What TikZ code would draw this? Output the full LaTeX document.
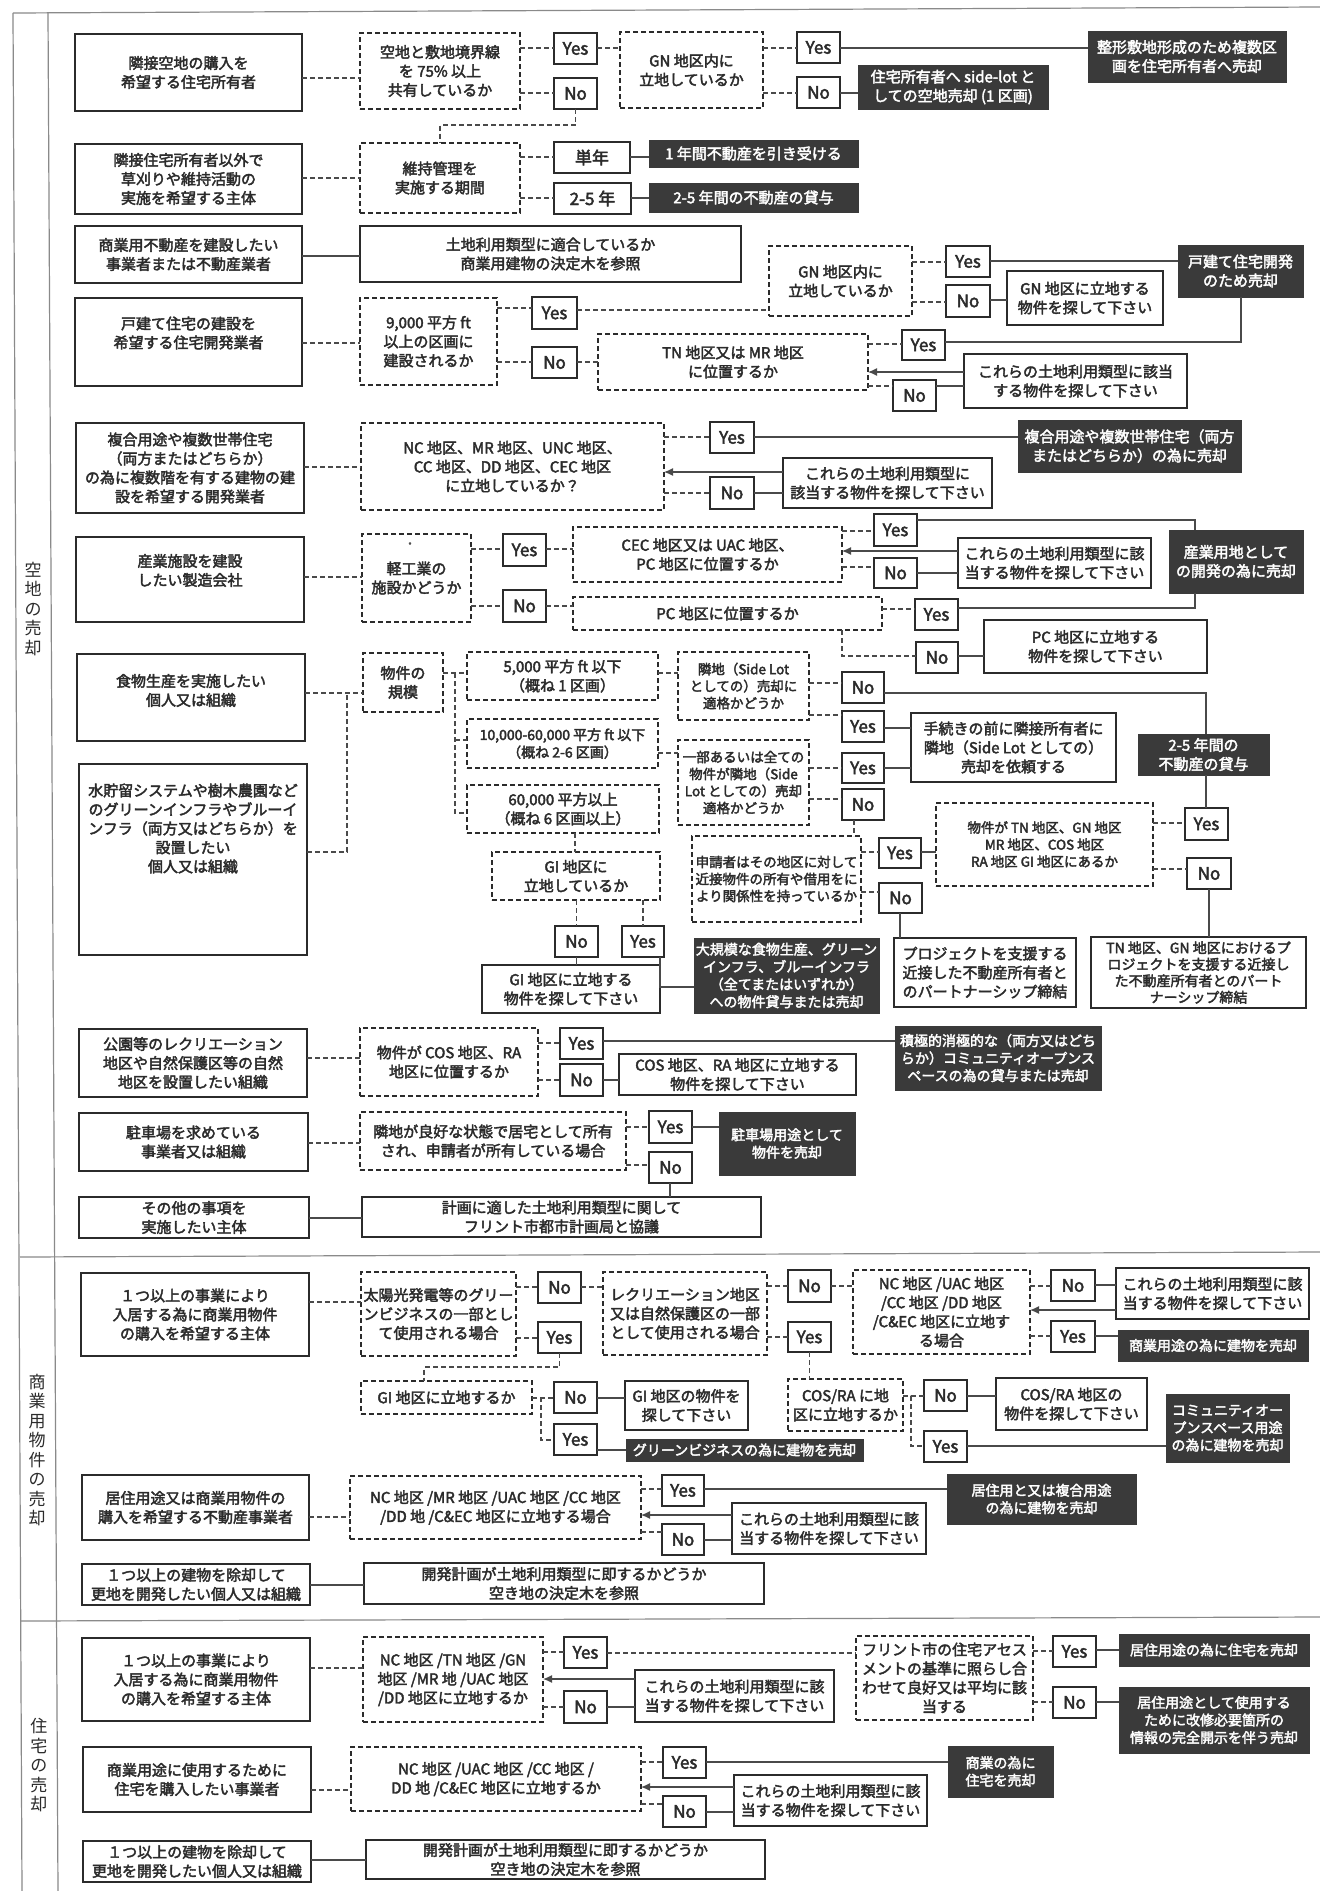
\documentclass[tikz,border=0pt]{standalone}
\usepackage{fontspec}
\setmainfont{Noto Sans CJK JP}[FakeBold=2.6]
\newfontfamily\lightjp{Noto Sans CJK JP}
\usetikzlibrary{arrows.meta}
\definecolor{ink}{HTML}{2B2B2B}
\definecolor{lin}{HTML}{4A4A4A}
\definecolor{dkf}{HTML}{3A3A3A}
\definecolor{frm}{HTML}{8A8A8A}
\newcommand\fa{\fontsize{15}{19}\selectfont}
\newcommand\fb{\fontsize{14}{17.5}\selectfont}
\newcommand\fc{\fontsize{13.5}{17}\selectfont}
\newcommand\fe{\fontsize{14}{16.5}\selectfont}
\newcommand\fy{\fontsize{17}{20}\selectfont}
\newcommand\mkbox[7]{\node[#2, minimum width={(#5)-(#3)}, minimum height={(#6)-(#4)}] (#1) at ({((#3)+(#5))/2},{((#4)+(#6))/2}) {#7};}
\newcommand\mkboxt[8]{\node[#2, minimum width={(#5)-(#3)}, minimum height={(#6)-(#4)}] (#1) at ({((#3)+(#5))/2},{((#4)+(#6))/2}) {};
\node[base] (#1t) at ({((#3)+(#5))/2},{((#4)+(#6))/2+(#7)}) {#8};}
\newcommand\hcon[4]{\draw[#1] (#2.east |- 0,#4) -- (#3.west |- 0,#4);}
\tikzset{
 base/.style={inner sep=0pt, outer sep=0pt, align=center, text=ink, font=\fa},
 act/.style={base, draw=ink, line width=1.6pt, fill=white},
 qn/.style={base, draw=ink, line width=1.3pt, dash pattern=on 5pt off 3pt},
 yn/.style={base, draw=ink, line width=1.3pt, fill=white, font=\fy},
 res/.style={base, draw=ink, line width=1.3pt, fill=white},
 dk/.style={base, fill=dkf, draw=dkf, text=white, line width=1pt},
 dl/.style={draw=lin, line width=1.2pt, dash pattern=on 5pt off 3pt},
 sl/.style={draw=lin, line width=1.2pt},
 ar/.style={sl, -{Latex[length=9pt,width=8pt]}},
 frame/.style={draw=frm, line width=1.2pt},
 seclab/.style={inner sep=0pt, align=center, text=ink, font=\lightjp\fontsize{17}{19.5}\selectfont},
}
\begin{document}
\begin{tikzpicture}[x=1pt,y=-1pt]
\useasboundingbox (0,0) rectangle (1320,1891);
\fill[white] (0,0) rectangle (1320,1891);
% frame
\draw[frame] (13,13) -- (22,1891);
\draw[frame] (48,13) -- (58,1891);
\draw[frame] (13,13) -- (1320,7);
\draw[frame] (20,1257) -- (1320,1252);
\draw[frame] (21,1621) -- (1320,1617);
\node[seclab] (L1) at (33,609) {空\\地\\の\\売\\却};
\node[seclab] (L2) at (37,1450) {商\\業\\用\\物\\件\\の\\売\\却};
\node[seclab] (L3) at (39,1765) {住\\宅\\の\\売\\却};

% ---- row 1
\mkbox{A1}{act}{75}{34}{302}{111}{隣接空地の購入を\\希望する住宅所有者}
\mkbox{Q1}{qn}{360}{33}{520}{109}{空地と敷地境界線\\を 75\% 以上\\共有しているか}
\mkbox{Y1}{yn}{554}{33}{597}{64}{Yes}
\mkbox{N1}{yn}{554}{78}{597}{109}{No}
\mkbox{Q2}{qn}{620}{32}{763}{108}{GN 地区内に\\立地しているか}
\mkbox{Y2}{yn}{797}{32}{840}{63}{Yes}
\mkbox{N2}{yn}{797}{77}{840}{108}{No}
\mkbox{D1}{dk}{1088}{31}{1286}{82}{整形敷地形成のため複数区\\画を住宅所有者へ売却}
\mkbox{D2}{dk}{858}{65}{1048}{109}{住宅所有者へ side-lot と\\しての空地売却 (1 区画)}
\hcon{dl}{A1}{Q1}{78}
\hcon{dl}{Q1}{Y1}{48}
\hcon{dl}{Q1}{N1}{93}
\hcon{dl}{Y1}{Q2}{48}
\hcon{dl}{Q2}{Y2}{48}
\hcon{dl}{Q2}{N2}{93}
\hcon{sl}{Y2}{D1}{48}
\hcon{sl}{N2}{D2}{93}

% ---- row 2
\mkbox{A2}{act}{75}{144}{302}{214}{隣接住宅所有者以外で\\草刈りや維持活動の\\実施を希望する主体}
\mkbox{Q3}{qn}{360}{143}{520}{213}{維持管理を\\実施する期間}
\mkbox{P1}{yn}{554}{142}{630}{173}{単年}
\mkbox{P2}{yn}{554}{183}{631}{214}{2-5 年}
\mkbox{D3}{dk}{649}{140}{858}{167}{1 年間不動産を引き受ける}
\mkbox{D4}{dk}{649}{183}{858}{212}{2-5 年間の不動産の貸与}
\draw[dl] (N1.south) |- (440,125) -- (Q3.north -| 440,0);
\hcon{dl}{A2}{Q3}{178}
\hcon{dl}{Q3}{P1}{157}
\hcon{dl}{Q3}{P2}{198}
\hcon{sl}{P1}{D3}{157}
\hcon{sl}{P2}{D4}{198}

% ---- row 3
\mkbox{A3}{act}{75}{226}{302}{283}{商業用不動産を建設したい\\事業者または不動産業者}
\mkbox{B3}{res}{360}{226}{741}{282}{土地利用類型に適合しているか\\商業用建物の決定木を参照}
\hcon{sl}{A3}{B3}{256}

% ---- row 4
\mkboxt{A4}{act}{75}{298}{302}{386}{-9}{戸建て住宅の建設を\\希望する住宅開発業者}
\mkbox{Q4}{qn}{360}{298}{497}{385}{9,000 平方 ft\\以上の区画に\\建設されるか}
\mkbox{Y4}{yn}{532}{297}{577}{329}{Yes}
\mkbox{N4}{yn}{532}{347}{577}{378}{No}
\mkbox{Q5}{qn}{769}{246}{912}{316}{GN 地区内に\\立地しているか}
\mkbox{Y5}{yn}{946}{246}{990}{277}{Yes}
\mkbox{N5}{yn}{946}{285}{990}{317}{No}
\mkbox{B5}{res}{1007}{271}{1163}{325}{GN 地区に立地する\\物件を探して下さい}
\mkbox{D5}{dk}{1178}{245}{1303}{297}{戸建て住宅開発\\のため売却}
\mkbox{Q6}{qn}{598}{334}{868}{390}{TN 地区又は MR 地区\\に位置するか}
\mkbox{Y6}{yn}{902}{330}{945}{360}{Yes}
\mkbox{N6}{yn}{893}{380}{936}{411}{No}
\mkbox{B6}{res}{964}{354}{1187}{408}{これらの土地利用類型に該当\\する物件を探して下さい}
\hcon{dl}{A4}{Q4}{343}
\hcon{dl}{Q4}{Y4}{308}
\hcon{dl}{Q4}{N4}{362}
\hcon{dl}{Y4}{Q5}{310}
\hcon{dl}{Q5}{Y5}{262}
\hcon{dl}{Q5}{N5}{302}
\hcon{sl}{Y5}{D5}{261}
\hcon{sl}{N5}{B5}{300}
\hcon{dl}{N4}{Q6}{362}
\hcon{dl}{Q6}{Y6}{344}
\hcon{dl}{Q6}{N6}{386}
\hcon{sl}{N6}{B6}{386}
\draw[ar] (B6.west |- 0,372) -- (Q6.east |- 0,372);
\draw[sl] (Y6.east |- 0,342) -| (D5.south -| 1241,0);

% ---- row 5
\mkbox{A5}{act}{76}{423}{304}{513}{複合用途や複数世帯住宅\\（両方またはどちらか）\\の為に複数階を有する建物の建\\設を希望する開発業者}
\mkbox{Q7}{qn}{361}{423}{664}{510}{NC 地区、MR 地区、UNC 地区、\\CC 地区、DD 地区、CEC 地区\\に立地しているか？}
\mkbox{Y7}{yn}{710}{422}{754}{453}{Yes}
\mkbox{N7}{yn}{710}{477}{754}{509}{No}
\mkbox{B7}{res}{783}{458}{992}{508}{これらの土地利用類型に\\該当する物件を探して下さい}
\mkbox{D7}{dk}{1018}{420}{1241}{472}{複合用途や複数世帯住宅（両方\\またはどちらか）の為に売却}
\hcon{dl}{A5}{Q7}{467}
\hcon{dl}{Q7}{Y7}{437}
\hcon{dl}{Q7}{N7}{493}
\hcon{sl}{Y7}{D7}{437}
\hcon{sl}{N7}{B7}{493}
\draw[ar] (B7.west |- 0,472) -- (Q7.east |- 0,472);

% ---- row 6
\mkboxt{A6}{act}{76}{537}{304}{622}{-9}{産業施設を建設\\したい製造会社}
\mkbox{Q8}{qn}{362}{534}{471}{622}{軽工業の\\施設かどうか}
\node[base, font=\fontsize{7}{7}\selectfont, text=lin] (Q8s) at (410,545) {*};
\mkbox{Y8}{yn}{503}{534}{546}{566}{Yes}
\mkbox{N8}{yn}{503}{590}{546}{622}{No}
\mkbox{Q9}{qn}{573}{527}{842}{582}{CEC 地区又は UAC 地区、\\PC 地区に位置するか}
\mkbox{Q10}{qn}{573}{597}{882}{630}{PC 地区に位置するか}
\mkbox{Y9}{yn}{874}{514}{917}{546}{Yes}
\mkbox{N9}{yn}{874}{558}{917}{588}{No}
\mkbox{B9}{res}{958}{538}{1151}{588}{これらの土地利用類型に該\\当する物件を探して下さい}
\mkbox{D9}{dk}{1169}{530}{1303}{593}{産業用地として\\の開発の為に売却}
\mkbox{Y10}{yn}{915}{599}{958}{630}{Yes}
\mkbox{N10}{yn}{916}{642}{958}{673}{No}
\mkbox{B10}{res}{984}{620}{1207}{673}{PC 地区に立地する\\物件を探して下さい}
\hcon{dl}{A6}{Q8}{577}
\hcon{dl}{Q8}{Y8}{549}
\hcon{dl}{Q8}{N8}{606}
\hcon{dl}{Y8}{Q9}{549}
\hcon{dl}{N8}{Q10}{606}
\hcon{dl}{Q9}{Y9}{531}
\hcon{dl}{Q9}{N9}{567}
\hcon{sl}{N9}{B9}{573}
\draw[ar] (B9.west |- 0,551) -- (Q9.east |- 0,551);
\draw[sl] (Y9.east |- 0,520) -| (D9.north -| 1195,0);
\hcon{dl}{Q10}{Y10}{609}
\draw[sl] (Y10.east |- 0,608) -| (D9.south -| 1195,0);
\draw[dl] (Q10.south -| 842,0) |- (N10.west |- 0,656);
\hcon{sl}{N10}{B10}{656}

% ---- row 7
\mkboxt{A7}{act}{77}{654}{305}{741}{-7}{食物生産を実施したい\\個人又は組織}
\mkboxt{A8}{act}{79}{764}{307}{955}{-31}{水貯留システムや樹木農園など\\のグリーンインフラやブルーイ\\ンフラ（両方又はどちらか）を\\設置したい\\個人又は組織}
\mkbox{Q11}{qn}{363}{653}{443}{712}{物件の\\規模}
\mkbox{S1}{qn}{467}{652}{658}{700}{5,000 平方 ft 以下\\（概ね 1 区画）}
\mkbox{S2}{qn,font=\fb}{467}{719}{658}{768}{10,000-60,000 平方 ft 以下\\（概ね 2-6 区画）}
\mkbox{S3}{qn}{467}{785}{659}{833}{60,000 平方以上\\（概ね 6 区画以上）}
\mkbox{Q12}{qn}{492}{852}{660}{900}{GI 地区に\\立地しているか}
\mkbox{N12}{yn}{555}{926}{598}{957}{No}
\mkbox{Y12}{yn}{622}{926}{664}{957}{Yes}
\mkbox{B12}{res}{482}{965}{660}{1013}{GI 地区に立地する\\物件を探して下さい}
\mkbox{D12}{dk,font=\fb}{694}{938}{879}{1013}{大規模な食物生産、グリーン\\インフラ、ブルーインフラ\\（全てまたはいずれか）\\への物件貸与または売却}
\draw[dl] (A7.east |- 0,693) -- (Q11.west |- 0,693);
\draw[dl] (A8.east |- 0,852) -| (347,693);
\draw[dl] (Q11.east |- 0,673) -- (S1.west |- 0,673);
\draw[dl] (455,673) |- (S3.west |- 0,813);
\draw[dl] (455,740) -- (S2.west |- 0,740);
\draw[dl] (S3.south -| 575,0) -- (Q12.north -| 575,0);
\draw[dl] (Q12.south -| N12.north) -- (N12.north);
\draw[dl] (Q12.south -| Y12.north) -- (Y12.north);
\draw[sl] (N12.south) -- (B12.north -| N12.south);
\draw[sl] (Y12.south -| 660,0) |- (D12.west |- 0,987);

\mkbox{Q13}{qn,font=\fc}{678}{652}{809}{720}{隣地（Side Lot\\としての）売却に\\適格かどうか}
\mkbox{Q14}{qn,font=\fc}{678}{740}{809}{825}{一部あるいは全ての\\物件が隣地（Side\\Lot としての）売却\\適格かどうか}
\mkbox{N13}{yn}{842}{672}{884}{703}{No}
\mkbox{Y13}{yn}{842}{711}{884}{742}{Yes}
\mkbox{Y14}{yn}{842}{753}{884}{783}{Yes}
\mkbox{N14}{yn}{842}{789}{884}{820}{No}
\mkbox{B13}{res}{911}{713}{1116}{782}{手続きの前に隣接所有者に\\隣地（Side Lot としての）\\売却を依頼する}
\mkbox{D13}{dk}{1138}{734}{1269}{775}{2-5 年間の\\不動産の貸与}
\mkbox{Q15}{qn,font=\fc}{936}{803}{1153}{886}{物件が TN 地区、GN 地区\\MR 地区、COS 地区\\RA 地区 GI 地区にあるか}
\mkbox{Y15}{yn}{1185}{808}{1228}{840}{Yes}
\mkbox{N15}{yn}{1187}{858}{1231}{889}{No}
\mkbox{Q16}{qn,font=\fc}{692}{836}{861}{922}{申請者はその地区に対して\\近接物件の所有や借用をに\\より関係性を持っているか}
\mkbox{Y16}{yn}{879}{838}{921}{868}{Yes}
\mkbox{N16}{yn}{879}{883}{922}{913}{No}
\mkbox{B16}{res}{894}{938}{1076}{1007}{プロジェクトを支援する\\近接した不動産所有者と\\のパートナーシップ締結}
\mkbox{B15}{res,font=\fe}{1091}{937}{1306}{1008}{TN 地区、GN 地区におけるプ\\ロジェクトを支援する近接し\\た不動産所有者とのパート\\ナーシップ締結}
\draw[dl] (S1.east |- 0,673) -- (Q13.west |- 0,673);
\draw[dl] (S2.east |- 0,753) -- (Q14.west |- 0,753);
\hcon{dl}{Q13}{N13}{683}
\hcon{dl}{Q13}{Y13}{715}
\hcon{dl}{Q14}{Y14}{768}
\hcon{dl}{Q14}{N14}{799}
\hcon{sl}{Y13}{B13}{728}
\hcon{sl}{Y14}{B13}{768}
\draw[sl] (N13.east |- 0,693) -| (D13.north -| 1206,0);
\draw[sl] (D13.south -| 1206,0) -- (Y15.north -| 1206,0);
\hcon{dl}{Q15}{Y15}{823}
\hcon{dl}{Q15}{N15}{869}
\draw[sl] (N15.south -| 1209,0) -- (B15.north -| 1209,0);
\draw[dl] (N14.south -| 854,0) -- (Q16.north -| 854,0);
\hcon{dl}{Q16}{Y16}{852}
\hcon{dl}{Q16}{N16}{892}
\hcon{sl}{Y16}{Q15}{852}
\draw[sl] (N16.south -| 900,0) -- (B16.north -| 900,0);

% ---- row 8
\mkbox{A9}{act}{79}{1029}{307}{1097}{公園等のレクリエーション\\地区や自然保護区等の自然\\地区を設置したい組織}
\mkbox{Q17}{qn}{360}{1028}{538}{1096}{物件が COS 地区、RA\\地区に位置するか}
\mkbox{Y17}{yn}{560}{1028}{603}{1059}{Yes}
\mkbox{N17}{yn}{560}{1064}{603}{1096}{No}
\mkbox{B17}{res}{619}{1054}{856}{1095}{COS 地区、RA 地区に立地する\\物件を探して下さい}
\mkbox{D17}{dk,font=\fb}{895}{1026}{1101}{1090}{積極的消極的な（両方又はどち\\らか）コミュニティオープンス\\ペースの為の貸与または売却}
\hcon{dl}{A9}{Q17}{1058}
\hcon{dl}{Q17}{Y17}{1043}
\hcon{dl}{Q17}{N17}{1080}
\hcon{sl}{Y17}{D17}{1041}
\hcon{sl}{N17}{B17}{1080}

% ---- row 9
\mkbox{A10}{act}{79}{1113}{308}{1171}{駐車場を求めている\\事業者又は組織}
\mkbox{Q18}{qn}{360}{1112}{626}{1170}{隣地が良好な状態で居宅として所有\\され、申請者が所有している場合}
\mkbox{Y18}{yn}{649}{1111}{692}{1143}{Yes}
\mkbox{N18}{yn}{649}{1152}{692}{1183}{No}
\mkbox{D18}{dk,font=\fb}{719}{1112}{855}{1175}{駐車場用途として\\物件を売却}
\hcon{dl}{A10}{Q18}{1143}
\hcon{dl}{Q18}{Y18}{1127}
\hcon{dl}{Q18}{N18}{1165}
\hcon{sl}{Y18}{D18}{1127}

% ---- row 10
\mkbox{A11}{act}{79}{1197}{309}{1238}{その他の事項を\\実施したい主体}
\mkbox{B19}{res}{362}{1197}{761}{1237}{計画に適した土地利用類型に関して\\フリント市都市計画局と協議}
\hcon{sl}{A11}{B19}{1218}
\draw[sl] (N18.south -| 670,0) -- (B19.north -| 670,0);

% ==== section 2
\mkbox{C1}{act}{81}{1273}{309}{1356}{１つ以上の事業により\\入居する為に商業用物件\\の購入を希望する主体}
\mkbox{R1}{qn}{361}{1272}{516}{1356}{太陽光発電等のグリー\\ンビジネスの一部とし\\て使用される場合}
\mkbox{NR1}{yn}{538}{1272}{581}{1303}{No}
\mkbox{YR1}{yn}{538}{1322}{581}{1353}{Yes}
\mkbox{R2}{qn}{603}{1272}{767}{1355}{レクリエーション地区\\又は自然保護区の一部\\として使用される場合}
\mkbox{NR2}{yn}{788}{1270}{831}{1302}{No}
\mkbox{YR2}{yn}{788}{1322}{831}{1352}{Yes}
\mkbox{R3}{qn}{853}{1270}{1030}{1354}{NC 地区 /UAC 地区\\/CC 地区 /DD 地区\\/C\&EC 地区に立地す\\る場合}
\mkbox{NR3}{yn}{1051}{1270}{1095}{1301}{No}
\mkbox{YR3}{yn}{1051}{1321}{1095}{1352}{Yes}
\mkbox{BR3}{res}{1116}{1268}{1309}{1319}{これらの土地利用類型に該\\当する物件を探して下さい}
\mkbox{DR3}{dk,font=\fb}{1118}{1330}{1308}{1361}{商業用途の為に建物を売却}
\hcon{dl}{C1}{R1}{1302}
\hcon{dl}{R1}{NR1}{1287}
\hcon{dl}{R1}{YR1}{1338}
\hcon{dl}{NR1}{R2}{1287}
\hcon{dl}{R2}{NR2}{1286}
\hcon{dl}{R2}{YR2}{1337}
\hcon{dl}{NR2}{R3}{1286}
\hcon{dl}{R3}{NR3}{1286}
\hcon{dl}{R3}{YR3}{1336}
\hcon{sl}{NR3}{BR3}{1285}
\hcon{sl}{YR3}{DR3}{1336}
\draw[ar] (BR3.west |- 0,1310) -- (R3.east |- 0,1310);

\mkbox{R4}{qn}{361}{1381}{532}{1414}{GI 地区に立地するか}
\mkbox{NR4}{yn}{554}{1382}{597}{1413}{No}
\mkbox{YR4}{yn}{554}{1424}{597}{1455}{Yes}
\mkbox{BR4}{res}{625}{1381}{748}{1430}{GI 地区の物件を\\探して下さい}
\mkbox{DR4}{dk,font=\fb}{626}{1439}{863}{1461}{グリーンビジネスの為に建物を売却}
\draw[dl] (YR1.south) |- (424,1367) -- (R4.north -| 424,0);
\hcon{dl}{R4}{NR4}{1398}
\draw[dl] (R4.east |- 0,1398) -- (541,1398) |- (YR4.west |- 0,1440);
\hcon{sl}{NR4}{BR4}{1398}
\hcon{sl}{YR4}{DR4}{1450}

\mkbox{R5}{qn}{788}{1379}{903}{1431}{COS/RA に地\\区に立地するか}
\mkbox{NR5}{yn}{924}{1380}{967}{1411}{No}
\mkbox{YR5}{yn}{924}{1431}{967}{1462}{Yes}
\mkbox{BR5}{res}{996}{1378}{1147}{1430}{COS/RA 地区の\\物件を探して下さい}
\mkbox{DR5}{dk,font=\fb}{1166}{1394}{1289}{1462}{コミュニティオー\\プンスペース用途\\の為に建物を売却}
\draw[dl] (YR2.south) -- (R5.north -| YR2.south);
\hcon{dl}{R5}{NR5}{1396}
\draw[dl] (R5.east |- 0,1396) -- (911,1396) |- (YR5.west |- 0,1446);
\hcon{sl}{NR5}{BR5}{1396}
\hcon{sl}{YR5}{DR5}{1446}

\mkbox{C2}{act}{82}{1475}{309}{1540}{居住用途又は商業用物件の\\購入を希望する不動産事業者}
\mkbox{R6}{qn}{350}{1476}{641}{1539}{NC 地区 /MR 地区 /UAC 地区 /CC 地区\\/DD 地 /C\&EC 地区に立地する場合}
\mkbox{YR6}{yn}{662}{1475}{704}{1506}{Yes}
\mkbox{NR6}{yn}{662}{1524}{704}{1555}{No}
\mkbox{BR6}{res}{732}{1503}{926}{1554}{これらの土地利用類型に該\\当する物件を探して下さい}
\mkbox{DR6}{dk,font=\fb}{947}{1474}{1136}{1524}{居住用と又は複合用途\\の為に建物を売却}
\hcon{dl}{C2}{R6}{1517}
\hcon{dl}{R6}{YR6}{1489}
\hcon{dl}{R6}{NR6}{1532}
\hcon{sl}{YR6}{DR6}{1489}
\hcon{sl}{NR6}{BR6}{1540}
\draw[ar] (BR6.west |- 0,1515) -- (R6.east |- 0,1515);

\mkbox{C3}{act}{82}{1564}{310}{1605}{１つ以上の建物を除却して\\更地を開発したい個人又は組織}
\mkbox{BC3}{res}{364}{1563}{764}{1604}{開発計画が土地利用類型に即するかどうか\\空き地の決定木を参照}
\hcon{sl}{C3}{BC3}{1585}

% ==== section 3
\mkbox{H1}{act}{82}{1638}{310}{1721}{１つ以上の事業により\\入居する為に商業用物件\\の購入を希望する主体}
\mkbox{T1}{qn}{363}{1637}{543}{1722}{NC 地区 /TN 地区 /GN\\地区 /MR 地 /UAC 地区\\/DD 地区に立地するか}
\mkbox{YT1}{yn}{564}{1637}{607}{1668}{Yes}
\mkbox{NT1}{yn}{564}{1691}{607}{1723}{No}
\mkbox{BT1}{res}{635}{1670}{834}{1722}{これらの土地利用類型に該\\当する物件を探して下さい}
\mkbox{T2}{qn}{856}{1636}{1033}{1720}{フリント市の住宅アセス\\メントの基準に照らし合\\わせて良好又は平均に該\\当する}
\mkbox{YT2}{yn}{1053}{1636}{1096}{1667}{Yes}
\mkbox{NT2}{yn}{1053}{1687}{1096}{1718}{No}
\mkbox{DT2a}{dk,font=\fb}{1119}{1634}{1309}{1666}{居住用途の為に住宅を売却}
\mkbox{DT2b}{dk,font=\fb}{1119}{1687}{1309}{1753}{居住用途として使用する\\ために改修必要箇所の\\情報の完全開示を伴う売却}
\hcon{dl}{H1}{T1}{1668}
\hcon{dl}{T1}{YT1}{1652}
\hcon{dl}{T1}{NT1}{1707}
\hcon{sl}{NT1}{BT1}{1707}
\draw[ar] (BT1.west |- 0,1679) -- (T1.east |- 0,1679);
\hcon{dl}{YT1}{T2}{1653}
\hcon{dl}{T2}{YT2}{1651}
\hcon{dl}{T2}{NT2}{1702}
\hcon{sl}{YT2}{DT2a}{1650}
\hcon{sl}{NT2}{DT2b}{1702}

\mkbox{H2}{act}{83}{1747}{311}{1812}{商業用途に使用するために\\住宅を購入したい事業者}
\mkbox{T3}{qn}{351}{1747}{641}{1811}{NC 地区 /UAC 地区 /CC 地区 /\\DD 地 /C\&EC 地区に立地するか}
\mkbox{YT3}{yn}{663}{1747}{706}{1778}{Yes}
\mkbox{NT3}{yn}{663}{1796}{706}{1827}{No}
\mkbox{BT3}{res}{734}{1775}{927}{1826}{これらの土地利用類型に該\\当する物件を探して下さい}
\mkbox{DT3}{dk,font=\fb}{948}{1746}{1053}{1797}{商業の為に\\住宅を売却}
\hcon{dl}{H2}{T3}{1790}
\hcon{dl}{T3}{YT3}{1762}
\hcon{dl}{T3}{NT3}{1804}
\hcon{sl}{YT3}{DT3}{1762}
\hcon{sl}{NT3}{BT3}{1812}
\draw[ar] (BT3.west |- 0,1787) -- (T3.east |- 0,1787);

\mkbox{H3}{act}{83}{1841}{311}{1882}{１つ以上の建物を除却して\\更地を開発したい個人又は組織}
\mkbox{BH3}{res}{366}{1840}{765}{1879}{開発計画が土地利用類型に即するかどうか\\空き地の決定木を参照}
\hcon{sl}{H3}{BH3}{1860}
\end{tikzpicture}
\end{document}
